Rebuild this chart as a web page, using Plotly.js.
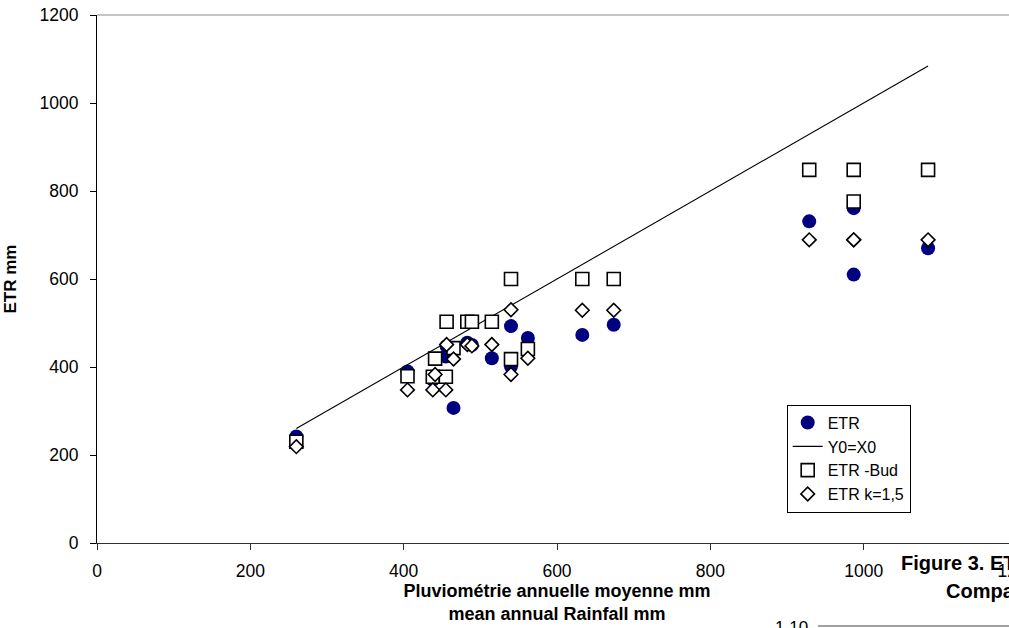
<!DOCTYPE html>
<html>
<head>
<meta charset="utf-8">
<script src="https://cdn.plot.ly/plotly-3.0.1.min.js"></script>
<style>
html, body { margin: 0; padding: 0; overflow: hidden; background: #fff; }
#chart { width: 1050px; height: 628px; }
</style>
</head>
<body>
<div id="chart"></div>
<script>
// Mean annual rainfall (mm) per station
const rainfall = [260, 405, 438, 441, 455, 456, 465, 483, 489, 515, 540, 540, 562, 633, 674, 929, 987, 987, 1084];
// ETR observed
const etr      = [242, 390, 371, 419, 424, 447, 307, 455, 450, 420, 493, 401, 466, 473, 496, 731, 761, 610, 670];
// ETR - Budyko
const etrBud   = [230, 379, 378, 419, 378, 503, 443, 503, 503, 503, 600, 418, 441, 600, 600, 848, 776, 848, 848];
// ETR k = 1,5
const etrK     = [219, 348, 348, 383, 348, 451, 418, 451, 448, 451, 530, 383, 420, 529, 529, 689, 689, 689, 689];
const seriesNames = ["ETR", "Y0=X0", "ETR -Bud", "ETR k=1,5"];
const xTickVals = [0, 200, 400, 600, 800, 1000, 1200];
const yTickVals = [0, 200, 400, 600, 800, 1000, 1200];

const lineX = [Math.min(...rainfall), Math.max(...rainfall)];
const lineY = lineX.slice();

const FONT = "Liberation Sans, Arial, sans-serif";

const traces = [
  {
    x: rainfall, y: etr, name: seriesNames[0], type: "scatter", mode: "markers",
    marker: { symbol: "circle", size: 14, color: "#000080", line: { width: 0 } }
  },
  {
    x: lineX, y: lineY, name: seriesNames[1], type: "scatter", mode: "lines",
    line: { color: "#000000", width: 1.1 }
  },
  {
    x: rainfall, y: etrBud, name: seriesNames[2], type: "scatter", mode: "markers",
    marker: { symbol: "square", size: 13, color: "#ffffff", line: { color: "#000000", width: 1.6 } }
  },
  {
    x: rainfall, y: etrK, name: seriesNames[3], type: "scatter", mode: "markers",
    marker: { symbol: "diamond", size: 10.5, color: "#ffffff", line: { color: "#000000", width: 1.6 } }
  }
];

const plotL = 97, plotR = 1017, plotT = 15, plotB = 543.5;
const W = 1050, H = 628;
const pw = plotR - plotL, ph = plotB - plotT;
const px = v => (v - plotL) / pw;
const py = v => (plotB - v) / ph;

const layout = {
  width: W, height: H,
  margin: { l: plotL, r: W - plotR, t: plotT, b: H - plotB, pad: 0 },
  paper_bgcolor: "#ffffff",
  plot_bgcolor: "#ffffff",
  font: { family: FONT, color: "#000000", size: 17 },
  showlegend: true,
  legend: {
    x: px(786.7), y: py(405), xanchor: "left", yanchor: "top",
    bgcolor: "#ffffff", bordercolor: "#000000", borderwidth: 1,
    font: { family: FONT, size: 16, color: "#000000" },
    itemwidth: 30, itemsizing: "trace",
    traceorder: "normal"
  },
  xaxis: {
    range: [0, 1200], tickvals: xTickVals, ticktext: xTickVals.map(String),
    showgrid: false, zeroline: false,
    showline: true, linecolor: "#303030", linewidth: 1,
    ticks: "outside", ticklen: 6, tickcolor: "#303030", tickwidth: 1,
    tickfont: { family: FONT, size: 17.5, color: "#000000" },
    ticklabelstandoff: 6,
    ticklabeloverflow: "allow",
    title: {
      text: "<b>Pluviométrie annuelle moyenne mm<br>mean annual Rainfall mm</b>",
      font: { family: FONT, size: 18, color: "#000000" },
      standoff: 0
    }
  },
  yaxis: {
    range: [0, 1200], tickvals: yTickVals, ticktext: yTickVals.map(String),
    showgrid: false, zeroline: false,
    showline: true, linecolor: "#000000", linewidth: 1,
    ticks: "outside", ticklen: 6, tickcolor: "#000000", tickwidth: 1,
    tickfont: { family: FONT, size: 17.5, color: "#000000" },
    ticklabelstandoff: 8,
    title: {
      text: "<b>ETR mm</b>",
      font: { family: FONT, size: 17, color: "#000000" },
      standoff: 18
    }
  },
  shapes: [
    { type: "line", xref: "paper", yref: "paper", x0: 0, x1: 1, y0: 1, y1: 1,
      line: { color: "#8c8c8c", width: 1.2 } },
    { type: "line", xref: "paper", yref: "paper", x0: px(818), x1: 1.05, y0: py(626.7), y1: py(626.7),
      line: { color: "#808080", width: 1.5 } }
  ],
  annotations: [
    { text: "<b>Figure 3. ETR</b>", xref: "paper", yref: "paper", x: px(899.3), y: py(564),
      xanchor: "left", yanchor: "middle", showarrow: false,
      font: { family: FONT, size: 20, color: "#000000" } },
    { text: "<b>Comparaison</b>", xref: "paper", yref: "paper", x: px(944.3), y: py(591.7),
      xanchor: "left", yanchor: "middle", showarrow: false,
      font: { family: FONT, size: 20, color: "#000000" } },
    { text: "1.10", xref: "paper", yref: "paper", x: px(791), y: py(617),
      xanchor: "center", yanchor: "top", showarrow: false,
      font: { family: FONT, size: 17, color: "#000000" } }
  ]
};

Plotly.newPlot("chart", traces, layout, { displayModeBar: false, staticPlot: true });
</script>
</body>
</html>
